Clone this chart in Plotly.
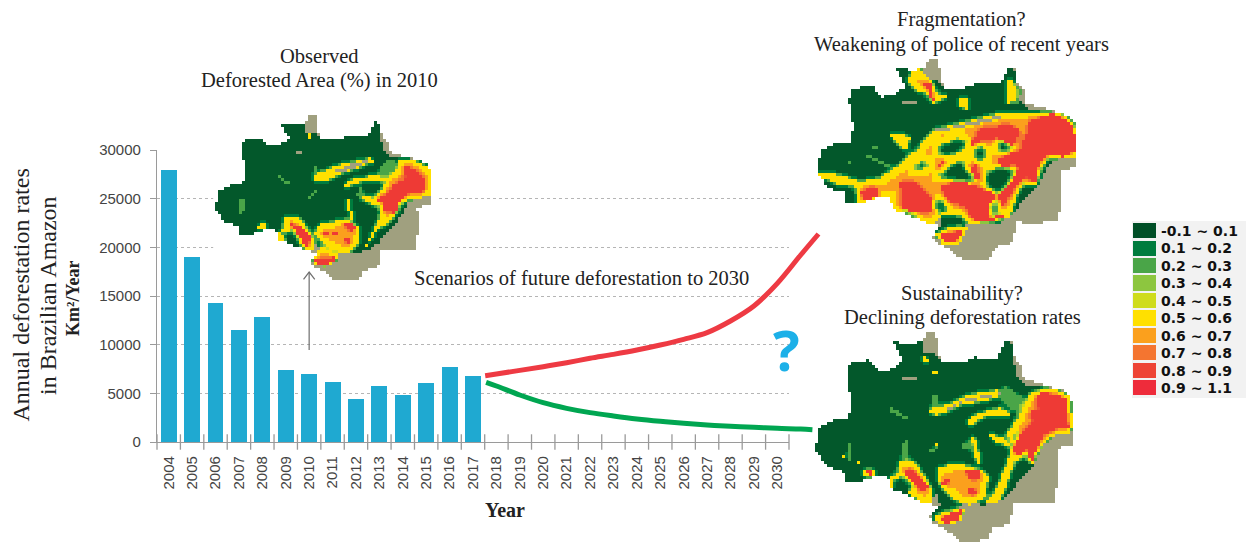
import numpy as np
import plotly.graph_objects as go

W, H = 1246, 542

# ---------- data ----------
years = list(range(2004, 2031))
observed_years = list(range(2004, 2018))
observed_rates = [27900, 19000, 14300, 11500, 12800, 7400, 6950, 6200, 4400, 5750, 4850, 6100, 7750, 6800]
y_ticks = [0, 5000, 10000, 15000, 20000, 25000, 30000]

red_years = [2017.52, 2018, 2019, 2020, 2021, 2022, 2023, 2024, 2025, 2026, 2027, 2028, 2029, 2030, 2031, 2031.76]
red_rates = [6815, 6990, 7360, 7740, 8150, 8600, 9005, 9450, 9965, 10550, 11235, 12430, 13970, 16300, 19210, 21370]
green_years = [2017.56, 2018, 2019, 2020, 2021, 2022, 2023, 2024, 2025, 2026, 2027, 2028, 2029, 2030, 2031, 2031.5]
green_rates = [6130, 5750, 4830, 4040, 3460, 3015, 2670, 2365, 2125, 1920, 1745, 1610, 1510, 1405, 1335, 1265]

legend_labels = ["-0.1 ~ 0.1", "0.1 ~ 0.2", "0.2 ~ 0.3", "0.3 ~ 0.4", "0.4 ~ 0.5",
                 "0.5 ~ 0.6", "0.6 ~ 0.7", "0.7 ~ 0.8", "0.8 ~ 0.9", "0.9 ~ 1.1"]
legend_colors = ["#004f27", "#007c3e", "#4aa548", "#8dc63f", "#cfdc1c",
                 "#ffe000", "#fba01d", "#f47530", "#ee4435", "#ee2c3b"]

# Map regions, in 3x pixels of each map's crop
OUTLINE = [(385,35),(408,38),(415,95),(425,130),(500,125),(520,112),(590,115),(620,60),(635,65),(645,120),(668,135),(670,175),(720,190),(800,215),(815,240),(822,300),(820,375),(770,385),(775,455),(765,545),(680,550),(640,545),(630,610),(580,625),(560,660),(480,665),(440,630),(400,610),(390,590),(415,560),(400,555),(375,550),(310,520),(270,505),(265,470),(225,470),(170,490),(135,490),(130,455),(80,440),(45,390),(60,320),(100,300),(145,295),(155,250),(140,165),(150,130),(210,120),(240,155),(285,145),(310,120),(280,65),(330,72),(365,65)]
FOREST = [(280,65),(330,72),(365,65),(368,100),(405,100),(425,130),(500,125),(520,112),(590,115),(620,60),(635,75),(640,125),(650,165),(680,195),(720,195),(800,215),(815,240),(818,300),(815,335),(770,345),(735,370),(700,440),(660,480),(630,520),(590,550),(540,555),(510,540),(470,565),(495,580),(440,610),(400,600),(390,580),(420,560),(415,520),(375,550),(310,520),(270,505),(265,470),(225,470),(170,490),(135,490),(130,455),(80,440),(45,390),(60,320),(100,300),(145,295),(155,250),(140,165),(150,130),(210,120),(240,155),(285,145),(310,120)]

M1_GREEN = [
 [(565,180),(590,180),(560,240),(540,225),(545,200)],
 [(345,195),(355,195),(355,235),(345,235)],
 [(320,290),(350,270),(345,280),(325,300)],
 [(240,225),(270,250),(265,255),(235,232)],
 [(115,300),(135,300),(130,340),(115,340)],
 [(480,260),(500,290),(480,295),(470,280)],
]
M1_YELLOW = [
 [(600,180),(650,185),(690,205),(695,290),(640,295),(600,310),(580,355),(560,375),(540,380),(500,440),(495,440),(520,390),(540,350),(545,310),(510,300),(540,280),(560,240),(590,210)],
 [(360,370),(440,360),(480,385),(475,430),(440,460),(395,450),(360,420),(345,400)],
 [(250,350),(290,350),(335,400),(345,445),(320,450),(295,425),(240,430),(235,400),(255,385)],
 [(340,470),(370,440),(380,450),(420,465),(395,495),(360,500),(340,490)],
 [(340,225),(420,195),(510,175),(520,185),(440,215),(380,240),(345,240)],
 [(430,250),(470,235),(530,225),(560,240),(510,240),(450,255),(440,265)],
 [(440,295),(450,300),(458,360),(448,355)],
 [(480,290),(510,290),(545,310),(530,320),(500,305)],
 [(180,370),(200,375),(190,390),(170,380)],
 [(315,95),(335,95),(330,115)],
 [(335,140),(360,140),(340,150)],
 [(110,340),(125,340),(115,348)],
]
M1_DARK = [
 [(240,395),(280,390),(300,420),(260,430)],
 [(540,285),(560,285),(555,305),(538,300)],
]
M1_TAN = [[(400,215),(460,190),(510,180),(480,200),(420,218)], [(270,150),(305,155),(300,160),(270,155)]]
M1_RED = [
 [(610,190),(650,215),(680,240),(670,275),(625,280),(600,300),(585,345),(565,330),(545,335),(550,305),(520,300),(560,285),(580,255),(620,235),(610,215)],
 [(420,365),(470,375),(455,395)],
 [(365,390),(390,395),(375,410)],
 [(395,400),(415,400),(405,412)],
 [(430,410),(455,415),(440,435)],
 [(270,370),(305,380),(330,410),(325,445),(300,415)],
 [(345,480),(385,480),(415,465),(395,490),(360,495)],
]

M2_GREEN = [
 [(195,310),(270,345),(265,352),(195,318)],
 [(220,290),(240,285),(235,300),(222,300)],
 [(640,90),(665,125),(650,165),(625,140)],
 [(140,340),(155,335),(155,350)],
]
M2_YELLOW = [
 [(55,365),(100,370),(180,395),(240,385),(290,350),(350,300),(400,240),(500,215),(600,190),(700,185),(800,195),(830,240),(832,320),(790,325),(745,320),(720,360),(705,410),(670,400),(650,440),(630,500),(570,515),(510,520),(470,490),(420,500),(400,520),(360,520),(300,490),(275,470),(270,440),(220,450),(170,465),(170,410),(120,405),(85,390),(60,385)],
 [(405,555),(445,535),(500,535),(480,580),(430,585)],
 [(340,60),(360,55),(395,90),(410,130),(440,140),(400,160),(380,130),(345,120),(325,90)],
 [(620,90),(640,90),(650,150),(620,160)],
 [(260,250),(300,250),(330,262),(325,300),(300,290)],
 [(470,150),(500,145),(500,180),(480,170)],
]
M2_DARK = [
 [(420,285),(470,265),(505,270),(490,300),(440,320),(415,310)],
 [(525,295),(550,285),(560,310),(545,335),(525,325)],
 [(590,270),(630,265),(645,290),(620,310),(590,300)],
 [(415,375),(460,340),(490,325),(495,360),(530,380),(520,400),(480,395),(420,385)],
 [(340,345),(380,330),(385,350),(350,365)],
 [(555,365),(600,350),(648,360),(625,410),(595,435),(560,410)],
 [(400,450),(425,445),(440,480),(415,495)],
 [(130,410),(170,410),(170,460),(135,460)],
 [(300,470),(330,480),(360,510),(330,505)],
 [(570,470),(590,450),(600,490),(575,505)],
]
M2_TAN = [[(400,240),(480,225),(540,210),(620,195),(600,205),(520,225),(440,240)], [(300,150),(355,155),(345,165),(305,160)]]
M2_RED = [
 [(690,210),(760,190),(820,225),(830,300),(790,320),(740,310),(715,350),(705,405),(680,375),(640,420),(610,470),(590,440),(640,390),(655,350),(610,320),(630,310),(660,300),(680,250)],
 [(545,235),(630,225),(660,240),(640,290),(590,265),(540,275),(515,290),(515,270)],
 [(300,400),(345,395),(395,440),(395,490),(310,480),(305,440)],
 [(420,405),(490,395),(570,425),(590,440),(565,470),(570,505),(610,490),(610,505),(530,515),(490,470),(440,450)],
 [(180,425),(230,410),(240,435),(195,455)],
 [(525,340),(540,385),(530,390),(515,360)],
 [(590,320),(650,320),(630,350),(590,345)],
 [(410,340),(435,335),(415,355)],
 [(420,555),(490,540),(470,575),(435,580)],
 [(365,100),(395,100),(400,140),(420,145),(395,150),(380,115)],
]

M3_GREEN = [
 [(610,195),(680,240),(660,285),(640,270),(600,240)],
 [(395,225),(410,225),(415,265),(400,265)],
 [(270,262),(330,295),(325,300),(265,270)],
 [(490,370),(540,345),(520,390),(480,390)],
 [(310,365),(325,360),(320,420),(305,420)],
 [(380,395),(415,375),(410,385),(385,405)],
 [(140,365),(150,365),(150,420),(140,420)],
]
M3_YELLOW = [
 [(700,215),(760,205),(805,225),(818,300),(812,340),(775,340),(735,365),(710,400),(695,440),(680,400),(640,430),(620,500),(595,545),(555,545),(575,530),(600,480),(620,430),(640,375),(620,340),(650,300),(680,240)],
 [(420,440),(470,430),(540,450),(565,470),(555,530),(510,555),(460,540),(430,510),(410,470)],
 [(295,420),(340,425),(375,470),(395,510),(400,545),(365,545),(320,515),(275,505),(270,470),(300,460)],
 [(400,590),(440,575),(495,565),(480,605),(440,615),(405,605)],
 [(375,270),(440,255),(500,225),(590,210),(605,225),(550,245),(490,250),(450,270),(410,285)],
 [(500,300),(540,280),(600,265),(640,280),(620,285),(560,290),(520,305),(515,320)],
 [(515,350),(530,360),(540,430),(530,430),(520,395)],
 [(570,345),(610,350),(640,380),(620,375),(590,365)],
 [(190,445),(225,450),(225,470),(190,470)],
 [(170,425),(190,430),(180,440)],
 [(365,110),(390,115),(385,130),(370,125)],
 [(395,155),(420,155),(400,165)],
 [(68,392),(82,392),(75,402)],
 [(122,408),(140,408),(130,416)],
 [(402,372),(416,372),(408,382)],
]
M3_DARK = [
 [(275,480),(310,470),(345,500),(320,515),(280,510)],
 [(385,470),(410,470),(420,520),(395,525)],
 [(635,340),(655,335),(660,355),(640,362)],
 [(750,255),(768,250),(770,268),(752,270)],
]
M3_TAN = [[(440,265),(500,235),(600,220),(560,235),(490,245),(450,270)], [(305,170),(350,170),(345,185),(310,180)]]
M3_RED = [
 [(720,215),(770,225),(805,240),(800,300),(812,325),(770,325),(730,345),(715,380),(695,425),(680,390),(650,410),(640,385),(660,340),(700,300),(690,275),(720,270),(710,240)],
 [(490,450),(540,450),(545,475),(510,475)],
 [(430,475),(450,480),(440,500),(425,495)],
 [(505,505),(530,510),(525,530),(505,520)],
 [(325,445),(350,460),(385,500),(370,515),(345,490),(315,460)],
 [(420,595),(460,575),(490,570),(470,605),(435,610)],
 [(200,452),(222,455),(215,468)],
]

# ---------- helpers ----------
def px(x): return x / W
def py(y): return 1 - y / H

def place(points, ox, oy, sx, sy):
    return [(ox + (x - 45) * sx, oy + (y - 35) * sy) for x, y in points]

def inside(poly, X, Y):
    res = np.zeros(X.shape, bool)
    n = len(poly)
    for i in range(n):
        x1, y1 = poly[i]
        x2, y2 = poly[(i + 1) % n]
        if y1 == y2:
            continue
        cross = ((y1 > Y) != (y2 > Y)) & (X < (x2 - x1) * (Y - y1) / (y2 - y1) + x1)
        res ^= cross
    return res

def union(polys, X, Y):
    res = np.zeros(X.shape, bool)
    for p in polys:
        res |= inside(p, X, Y)
    return res

def soften(a):
    k = np.array([1, 2, 1]) / 4
    a = np.apply_along_axis(lambda r: np.convolve(r, k, mode="same"), 0, a)
    a = np.apply_along_axis(lambda r: np.convolve(r, k, mode="same"), 1, a)
    return a

# classes: 0 tan, 1..10 legend colours
map_colors = ["#a0a07f", "#03582b", "#007c3e", "#4aa548", "#8dc63f", "#cfdc1c",
              "#ffe000", "#fba01d", "#f47530", "#ee4e35", "#ee3a35"]
n_cls = len(map_colors)
scale = []
for i, c in enumerate(map_colors):
    scale += [[i / n_cls, c], [(i + 1) / n_cls, c]]

def raster(tf, green, yellow, dark, tan, red, w, h, step=9):
    xs = np.arange(step / 2, w, step)
    ys = np.arange(step / 2, h, step)
    X, Y = np.meshgrid(xs, ys)
    out = inside(place(OUTLINE, *tf), X, Y)
    forest = inside(place(FOREST, *tf), X, Y)
    v = np.zeros(X.shape)
    v[union(green, X, Y)] = 0.28
    v[union(yellow, X, Y)] = 0.6
    v[union(dark, X, Y)] = 0.0
    v[union(red, X, Y)] = 1.0
    painted = (forest | (v > 0)) & out & ~union(tan, X, Y)
    s = np.maximum(soften(soften(v)), 0.92 * v)
    cls = np.clip(np.floor(s * 10).astype(int) + 1, 1, 10).astype(float)
    cls[~painted] = 0
    cls[~out] = np.nan
    return xs, ys, cls

fig = go.Figure()

# white gap behind the first map
fig.add_trace(go.Scatter(x=[2005.9, 2015.5, 2015.5, 2005.9, 2005.9], y=[15500, 15500, 30500, 30500, 15500],
                         mode="lines", fill="toself", fillcolor="white", line=dict(width=0),
                         hoverinfo="skip", showlegend=False, cliponaxis=False))
fig.add_trace(go.Bar(x=observed_years, y=observed_rates, marker_color="#1fa9d1", width=0.68, showlegend=False))
boundaries = [y - 0.5 for y in years] + [years[-1] + 0.5]
fig.add_trace(go.Scatter(x=boundaries, y=[0] * len(boundaries), mode="markers", cliponaxis=False,
                         marker=dict(symbol="line-ns-open", size=11, color="#9a9a9a", line=dict(color="#9a9a9a", width=1.3)),
                         hoverinfo="skip", showlegend=False))
# arrow from the 2010 bar up to the observed map
fig.add_trace(go.Scatter(x=[2010, 2010, None, 2009.76, 2010, 2010.24], y=[9450, 17460, None, 16700, 17460, 16700],
                         mode="lines", line=dict(color="#6e6e6e", width=1.2), hoverinfo="skip", showlegend=False))

maps = [
    ("2", (45, 45, 650 / 777, 503 / 635), M1_GREEN, M1_YELLOW, M1_DARK, M1_TAN, M1_RED, 750, 570),
    ("3", (50, 25, 782 / 777, 610 / 635), M2_GREEN, M2_YELLOW, M2_DARK, M2_TAN, M2_RED, 870, 660),
    ("4", (45, 35, 1, 1), M3_GREEN, M3_YELLOW, M3_DARK, M3_TAN, M3_RED, 870, 666),
]
for ax, tf, green, yellow, dark, tan, red, w, h in maps:
    xs, ys, cls = raster(tf, green, yellow, dark, tan, red, w, h)
    fig.add_trace(go.Heatmap(x=xs, y=ys, z=cls, zmin=0, zmax=n_cls, colorscale=scale, showscale=False,
                             hoverinfo="skip", xaxis="x" + ax, yaxis="y" + ax))

fig.add_trace(go.Bar(y=list(range(10)), x=[1] * 10, orientation="h", width=0.87,
                     marker_color=legend_colors, xaxis="x5", yaxis="y5", showlegend=False))

# scenario lines on a wider overlay axis with the same scale as the years
fig.add_trace(go.Scatter(x=red_years, y=red_rates, mode="lines", line=dict(color="#ee3a43", width=5, shape="spline"),
                         xaxis="x6", yaxis="y6", showlegend=False))
fig.add_trace(go.Scatter(x=green_years, y=green_rates, mode="lines", line=dict(color="#00a651", width=5, shape="spline"),
                         xaxis="x6", yaxis="y6", showlegend=False))

SERIF = "Liberation Serif"
def note(text, x, y, size=20.5, family=SERIF, color="#222", angle=0, xanchor="center", bold=False):
    if bold:
        text = "<b>" + text + "</b>"
    fig.add_annotation(x=px(x), y=py(y), xref="paper", yref="paper", text=text, showarrow=False, textangle=angle,
                       xanchor=xanchor, yanchor="middle", font=dict(family=family, size=size, color=color))

note("Observed", 320, 56)
note("Deforested Area (%) in 2010", 320, 81)
note("Fragmentation?", 961, 20)
note("Weakening of police of recent years", 961, 44)
note("Sustainability?", 962, 293)
note("Declining deforestation rates", 962, 317)
note("Scenarios of future deforestation to 2030", 581, 278)
note("Annual deforestation rates", 20, 295.5, size=24, angle=-90)
note("in Brazilian Amazon", 48, 296, size=24, angle=-90)
note("Km²/Year", 73, 299, size=18, angle=-90, bold=True)
note("Year", 505, 510, size=20, bold=True)
note("?", 786, 349, size=56, family="Open Sans", color="#1cb0e8", bold=True)

for i, label in enumerate(legend_labels):
    fig.add_annotation(x=1.13, y=i, xref="x5", yref="y5", text="<b>" + label + "</b>", showarrow=False,
                       xanchor="left", yanchor="middle",
                       font=dict(family="DejaVu Sans", size=14, color="#111"))

hidden = dict(visible=False, fixedrange=True, automargin=False)
fig.update_layout(
    template="none",
    width=W, height=H, margin=dict(l=0, r=0, t=0, b=0, pad=0), autosize=False,
    paper_bgcolor="white", plot_bgcolor="rgba(0,0,0,0)", showlegend=False, bargap=0,
    shapes=[dict(type="rect", xref="paper", yref="paper", x0=px(1132), x1=1, y0=py(398), y1=py(221),
                 fillcolor="#f2f2f2", line_width=0, layer="below")],
    xaxis=dict(domain=[px(157), px(789)], range=[2003.5, 2030.5], tickmode="array", tickvals=years,
               ticktext=[str(y) for y in years], tickangle=-90, ticklen=0, ticks="", showline=True,
               linecolor="#9a9a9a", linewidth=1.3, showgrid=False, zeroline=False, automargin=False,
               ticklabelstandoff=7,
               tickfont=dict(family="Liberation Sans", size=15, color="#444")),
    yaxis=dict(domain=[py(442), py(150)], range=[0, 30000], tickmode="array", tickvals=y_ticks,
               ticktext=[str(v) for v in y_ticks],
               ticks="outside", ticklen=6, tickcolor="#9a9a9a", showline=True, linecolor="#9a9a9a", linewidth=1.3,
               showgrid=True, gridcolor="#b5b5b5", griddash="dot", gridwidth=1, zeroline=False, automargin=False,
               ticklabelstandoff=6,
               tickfont=dict(family="Liberation Sans", size=15, color="#444")),
    xaxis2=dict(domain=[px(200), px(450)], range=[0, 750], anchor="y2", **hidden),
    yaxis2=dict(domain=[py(290), py(100)], range=[570, 0], anchor="x2", **hidden),
    xaxis3=dict(domain=[px(800), px(1090)], range=[0, 870], anchor="y3", **hidden),
    yaxis3=dict(domain=[py(270), py(50)], range=[660, 0], anchor="x3", **hidden),
    xaxis4=dict(domain=[px(800), px(1090)], range=[0, 870], anchor="y4", **hidden),
    yaxis4=dict(domain=[py(542), py(320)], range=[666, 0], anchor="x4", **hidden),
    xaxis5=dict(domain=[px(1133), px(1246)], range=[0, 4.9], anchor="y5", **hidden),
    yaxis5=dict(domain=[py(396.8), py(222.3)], range=[9.5, -0.5], anchor="x5", **hidden),
    xaxis6=dict(domain=[px(157), px(830)], range=[2003.5, 2003.5 + (830 - 157) / ((789 - 157) / 27)], anchor="y6", **hidden),
    yaxis6=dict(domain=[py(442), py(150)], range=[0, 30000], anchor="x6", **hidden),
)

fig.write_html("out.html", config=dict(displayModeBar=False),
               post_script="document.body.style.margin='0';document.body.style.overflow='hidden';")
